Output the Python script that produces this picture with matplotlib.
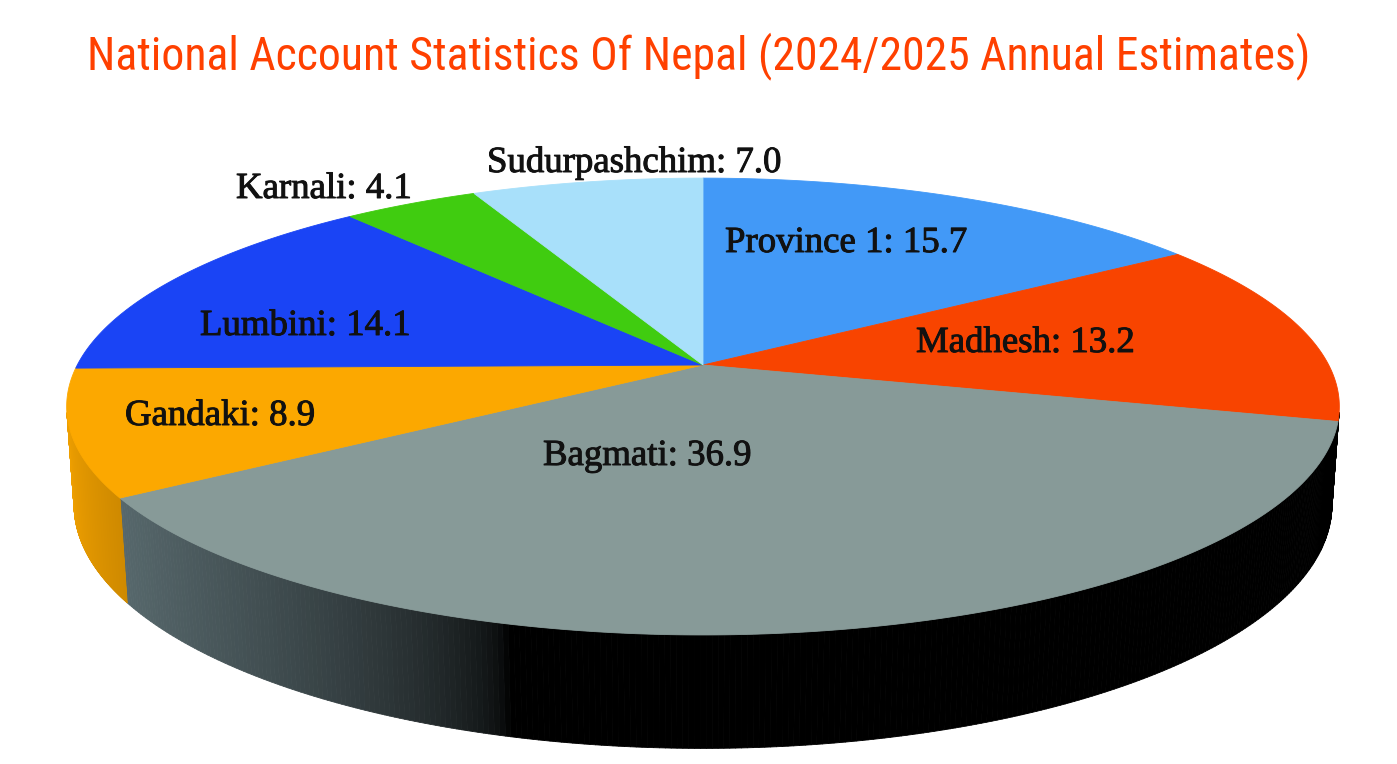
import numpy as np
import matplotlib.pyplot as plt
import matplotlib.colors as mcolors
import matplotlib.patheffects as pe
from matplotlib import font_manager
from matplotlib.collections import PolyCollection

# data
regions = ["Province 1", "Madhesh", "Bagmati", "Gandaki", "Lumbini", "Karnali", "Sudurpashchim"]
shares = [15.7, 13.2, 36.9, 8.9, 14.1, 4.1, 7.0]
top_colors = ['#4299F7', '#F84400', '#879A98', '#FCA800', '#1A44F5', '#40CC10', '#A8E0FA']
side_colors = ['#4299F7', '#F84400', '#6A7F84', '#FCA800', '#1A44F5', '#40CC10', '#A8E0FA']
title = "National Account Statistics Of Nepal (2024/2025 Annual Estimates)"

# label anchors in pixels (left edge, baseline)
label_pos = [(725, 252), (916, 352), (543, 465), (125, 425), (200, 335), (236, 198), (487, 172)]

W, H = 1397, 764
cx, cy = 703, 365
elev = np.radians(20.67)
dist = 5.146
focal = 3220
thick = 0.166


def project(theta, z):
    # theta: clockwise angle from the far edge, z: height (0 = top face)
    X = np.sin(theta)
    Y = -np.cos(theta)
    up = -Y * np.sin(elev) + z * np.cos(elev)
    depth = dist - (Y * np.cos(elev) + z * np.sin(elev))
    return cx + focal * X / depth, cy - focal * up / depth


def shade(theta):
    return np.clip(np.cos(theta - np.radians(285)), 0, 1) ** 0.5


def title_font():
    # look for a narrow sans, else plain Liberation Sans
    names = sorted({f.name for f in font_manager.fontManager.ttflist})
    for key in ['Liberation Sans Narrow', 'Arial Narrow', 'Roboto Condensed',
                'Open Sans Condensed', 'Noto Sans Condensed', 'DejaVu Sans Condensed']:
        if key in names:
            return key
    for n in names:
        if ('Narrow' in n or 'Condensed' in n) and 'Serif' not in n and 'Mono' not in n:
            return n
    return 'Liberation Sans'


fig = plt.figure(figsize=(W / 100, H / 100), dpi=100)
ax = fig.add_axes([0, 0, 1, 1])
ax.set_xlim(0, W)
ax.set_ylim(H, 0)
ax.axis('off')

frac = np.array(shares) / sum(shares)
bounds = np.concatenate([[0], np.cumsum(frac)]) * 2 * np.pi
ymin = 1 / (dist * np.cos(elev))

# side wall (front part only)
polys, cols = [], []
for i in range(len(shares)):
    th = np.linspace(bounds[i], bounds[i + 1], 300)
    base = np.array(mcolors.to_rgb(side_colors[i]))
    for a, b in zip(th[:-1], th[1:]):
        m = (a + b) / 2
        if -np.cos(m) <= ymin:
            continue
        x0, y0 = project(a, 0)
        x1, y1 = project(b, 0)
        x2, y2 = project(b, -thick)
        x3, y3 = project(a, -thick)
        polys.append([(x0, y0), (x1, y1), (x2, y2), (x3, y3)])
        cols.append(tuple(np.clip(base * shade(m), 0, 1)))
ax.add_collection(PolyCollection(polys, facecolors=cols, edgecolors=cols, linewidths=0.6))

# top faces
for i in range(len(shares)):
    th = np.linspace(bounds[i], bounds[i + 1], 200)
    xs, ys = project(th, 0)
    verts = [(cx, cy)] + list(zip(xs, ys))
    ax.add_patch(plt.Polygon(verts, closed=True, facecolor=top_colors[i],
                             edgecolor=top_colors[i], linewidth=0.6))

for name, val, (lx, ly) in zip(regions, shares, label_pos):
    ax.text(lx, ly, f"{name}: {val:.1f}", ha='left', va='baseline', fontsize=26.5,
            family=['Liberation Serif', 'DejaVu Serif'], color='#111111',
            path_effects=[pe.withStroke(linewidth=0.7, foreground='#111111')])

t = fig.text(0.5, 1 - 69 / H, title, ha='center', va='baseline', fontsize=36,
             family=[title_font(), 'Liberation Sans'], color='#FF4000')
r = fig.canvas.get_renderer()
w = t.get_window_extent(r).width
t.set_fontsize(min(36 * 1224 / w, 37))

fig.savefig("out.png", dpi=100)
